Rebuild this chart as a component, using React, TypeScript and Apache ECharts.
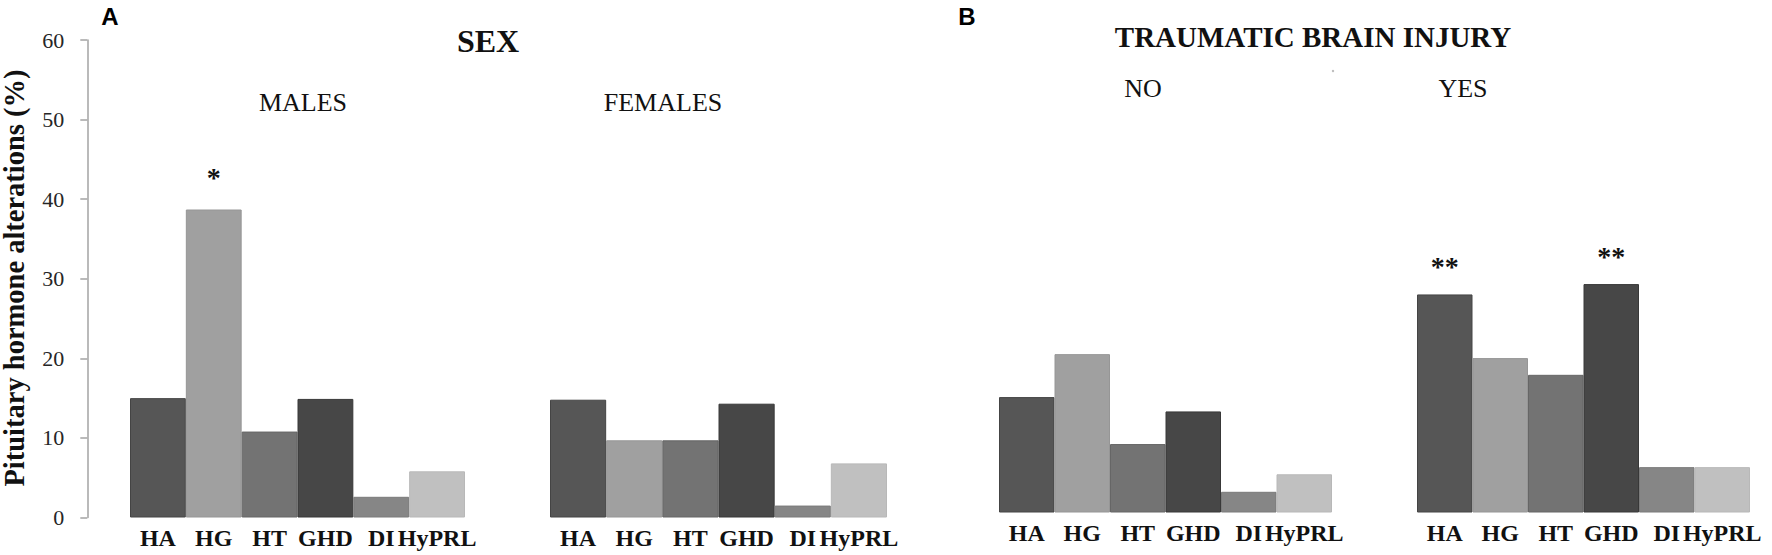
import React, { useEffect, useRef } from "react";
import * as echarts from "echarts";

// ---- data ----
const categories = ["HA", "HG", "HT", "GHD", "DI", "HyPRL"];
const malesValues = [15.0, 38.7, 10.8, 14.9, 2.6, 5.8];
const femalesValues = [14.8, 9.7, 9.7, 14.3, 1.5, 6.8];
const tbiNoValues = [14.5, 19.9, 8.6, 12.7, 2.6, 4.8];
const tbiYesValues = [27.4, 19.4, 17.3, 28.7, 5.7, 5.7];
const malesSig = ["", "*", "", "", "", ""];
const femalesSig = ["", "", "", "", "", ""];
const tbiNoSig = ["", "", "", "", "", ""];
const tbiYesSig = ["**", "", "", "**", "", ""];
const yTicks = { min: 0, max: 60, interval: 10 };
const groupTitles = ["MALES", "FEMALES", "NO", "YES"];
const panelTitles = ["SEX", "TRAUMATIC BRAIN INJURY"];
const panelLetters = ["A", "B"];
const yAxisTitle = "Pituitary hormone alterations (%)";

// ---- styles ----
const barColors = ["#565656", "#a0a0a0", "#737373", "#474747", "#868686", "#c0c0c0"];
const barBorders = ["#444444", "#969696", "#666666", "#383838", "#7a7a7a", "#b8b8b8"];
const SERIF = "'Liberation Serif', 'Times New Roman', serif";
const SANS = "'Liberation Sans', Arial, sans-serif";

const groups = [
  { values: malesValues, sig: malesSig, left: 130, width: 335, top: 40, height: 477.5 },
  { values: femalesValues, sig: femalesSig, left: 550, width: 337, top: 40, height: 477.5 },
  { values: tbiNoValues, sig: tbiNoSig, left: 999, width: 333, top: 35, height: 477.5 },
  { values: tbiYesValues, sig: tbiYesSig, left: 1417, width: 333, top: 35, height: 477.5 },
];

export default function App() {
  const ref = useRef<HTMLDivElement>(null);
  useEffect(() => {
    if (!ref.current) return;
    const chart = echarts.init(ref.current, null, { renderer: "svg" });
    const option: any = {
      animation: false,
      backgroundColor: "#ffffff",
      grid: groups.map((g) => ({
        left: g.left,
        width: g.width,
        top: g.top,
        height: g.height,
        containLabel: false,
      })),
      xAxis: groups.map((g, i) => ({
        type: "category",
        gridIndex: i,
        data: categories,
        axisLine: { show: false },
        axisTick: { show: false },
        axisLabel: {
          interval: 0,
          margin: 8,
          fontFamily: SERIF,
          fontWeight: "bold",
          fontSize: 24,
          color: "#111111",
        },
      })),
      yAxis: groups.map((g, i) => ({
        type: "value",
        gridIndex: i,
        min: yTicks.min,
        max: yTicks.max,
        interval: yTicks.interval,
        show: i === 0,
        offset: i === 0 ? 42.7 : 0,
        splitLine: { show: false },
        axisLine: { show: true, lineStyle: { color: "#a3a3a3", width: 1.5 } },
        axisTick: { show: true, length: 7, lineStyle: { color: "#a3a3a3", width: 1.5 } },
        axisLabel: {
          margin: 23,
          fontFamily: SERIF,
          fontSize: 22,
          color: "#262626",
        },
      })),
      series: groups.map((g, i) => ({
        type: "bar",
        xAxisIndex: i,
        yAxisIndex: i,
        barCategoryGap: "0%",
        data: g.values.map((v, j) => ({
          value: v,
          itemStyle: { color: barColors[j], borderColor: barBorders[j], borderWidth: 1 },
          label: {
            show: g.sig[j] !== "",
            formatter: g.sig[j],
            position: "top",
            distance: i === 0 ? 18 : 14,
            fontFamily: SERIF,
            fontWeight: "bold",
            fontSize: 28,
            color: "#111111",
          },
        })),
      })),
      graphic: [
        {
          type: "text",
          x: 14,
          y: 278,
          rotation: Math.PI / 2,
          style: {
            text: yAxisTitle,
            align: "center",
            verticalAlign: "middle",
            fontFamily: SERIF,
            fontWeight: "bold",
            fontSize: 28.5,
            fill: "#111111",
          },
        },
        {
          type: "text",
          x: 110,
          y: 16,
          style: { text: panelLetters[0], align: "center", verticalAlign: "middle", fontFamily: SANS, fontWeight: "bold", fontSize: 24, fill: "#000000" },
        },
        {
          type: "text",
          x: 967,
          y: 16,
          style: { text: panelLetters[1], align: "center", verticalAlign: "middle", fontFamily: SANS, fontWeight: "bold", fontSize: 24, fill: "#000000" },
        },
        {
          type: "text",
          x: 488,
          y: 41,
          style: { text: panelTitles[0], align: "center", verticalAlign: "middle", fontFamily: SERIF, fontWeight: "bold", fontSize: 32, fill: "#111111" },
        },
        {
          type: "text",
          x: 1313,
          y: 37,
          style: { text: panelTitles[1], align: "center", verticalAlign: "middle", fontFamily: SERIF, fontWeight: "bold", fontSize: 29, fill: "#111111" },
        },
        {
          type: "text",
          x: 303,
          y: 102,
          style: { text: groupTitles[0], align: "center", verticalAlign: "middle", fontFamily: SERIF, fontSize: 26, fill: "#111111" },
        },
        {
          type: "text",
          x: 663,
          y: 102,
          style: { text: groupTitles[1], align: "center", verticalAlign: "middle", fontFamily: SERIF, fontSize: 26, fill: "#111111" },
        },
        {
          type: "text",
          x: 1143,
          y: 88,
          style: { text: groupTitles[2], align: "center", verticalAlign: "middle", fontFamily: SERIF, fontSize: 26, fill: "#111111" },
        },
        {
          type: "text",
          x: 1463,
          y: 88,
          style: { text: groupTitles[3], align: "center", verticalAlign: "middle", fontFamily: SERIF, fontSize: 26, fill: "#111111" },
        },
        {
          type: "circle",
          shape: { cx: 1333, cy: 71, r: 1.2 },
          style: { fill: "#bbbbbb" },
        },
      ],
    };
    chart.setOption(option);
    return () => chart.dispose();
  }, []);
  return (
    <div
      ref={ref}
      style={{ position: "absolute", left: 0, top: 0, width: 1772, height: 555 }}
    />
  );
}
